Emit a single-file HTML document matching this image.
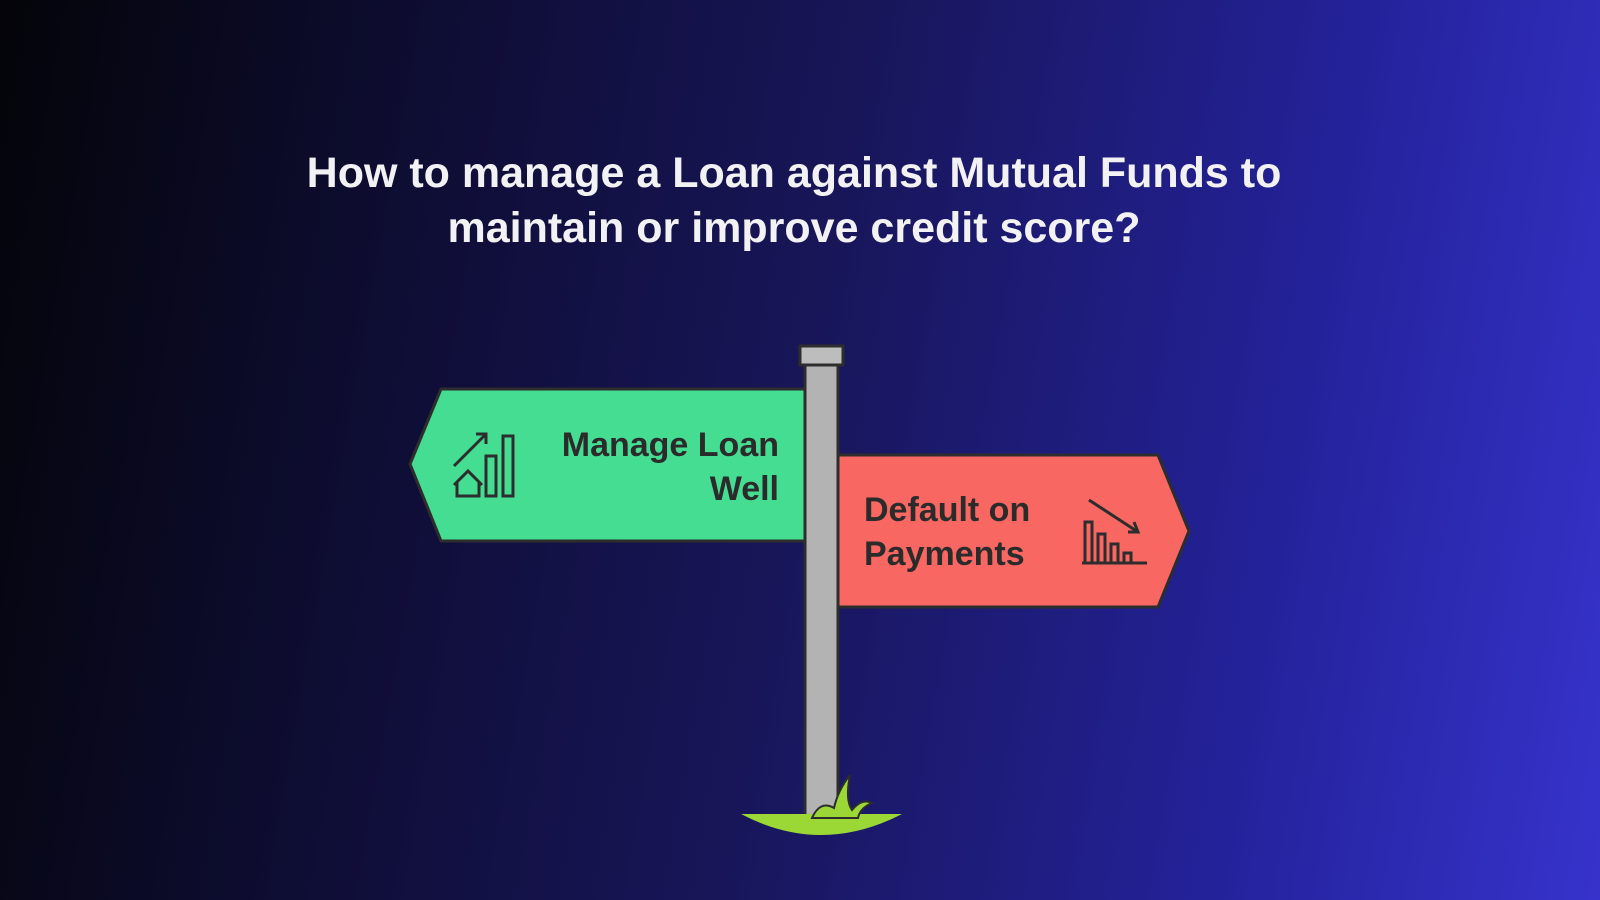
<!DOCTYPE html>
<html><head><meta charset="utf-8"><style>
html,body{margin:0;padding:0}
body{width:1600px;height:900px;overflow:hidden;background:linear-gradient(100deg,#040409 0%,#0e0d33 25%,#181659 50%,#24229a 78%,#3633cc 100%);font-family:"Liberation Sans",sans-serif;position:relative}
.title{position:absolute;left:0;width:1588px;top:146px;text-align:center;color:#f2f2f4;font-weight:bold;font-size:43px;line-height:55px;letter-spacing:0}
svg{position:absolute;left:0;top:0}
</style></head><body>
<div class="title">How to manage a Loan against Mutual Funds to<br>maintain or improve credit score?</div>
<svg width="1600" height="900" viewBox="0 0 1600 900">
<g stroke="#2d2d2d" stroke-width="3" stroke-linejoin="round">
<polygon points="441,389 806,389 806,541 441,541 410,464" fill="#45dd92"/>
<polygon points="838,455 1158,455 1189,531 1158,607 838,607" fill="#f86762"/>
<rect x="805" y="364" width="33" height="452" fill="#b3b3b3"/>
<rect x="800" y="346" width="43" height="19" fill="#bdbdbd"/>
</g>
<path d="M741,814 Q821,856 902,814 Z" fill="#9bd836"/>
<path d="M812,818 Q820,800 834,808 Q838,790 850,775 Q845,800 852,810 Q862,798 872,803 Q860,808 858,818 Z" fill="#9bd836" stroke="#2d2d2d" stroke-width="2"/>
<g fill="none" stroke="#2d2d2d" stroke-width="3">
<path d="M454,466 L486,434 M476,434 L486,434 L486,444"/>
<rect x="486" y="456" width="10" height="40"/><rect x="503" y="436" width="10" height="60"/>
<path d="M457,496 L457,482 L468,471 L479,482 L479,496 Z M454,485 L468,471 L482,485"/>
<path d="M1089,500 L1138,532 M1128,532 L1138,532 L1134,522"/>
<path d="M1082,563 L1147,563"/>
<rect x="1085" y="522" width="7" height="41"/><rect x="1098" y="534" width="7" height="29"/><rect x="1111" y="544" width="7" height="19"/><rect x="1124" y="553" width="7" height="10"/>
</g>
<g font-family="Liberation Sans, sans-serif" font-weight="bold" font-size="34" fill="#2b2b2b">
<text x="779" y="456" text-anchor="end">Manage Loan</text>
<text x="779" y="500" text-anchor="end">Well</text>
<text x="864" y="521">Default on</text>
<text x="864" y="565">Payments</text>
</g>
</svg>
</body></html>
